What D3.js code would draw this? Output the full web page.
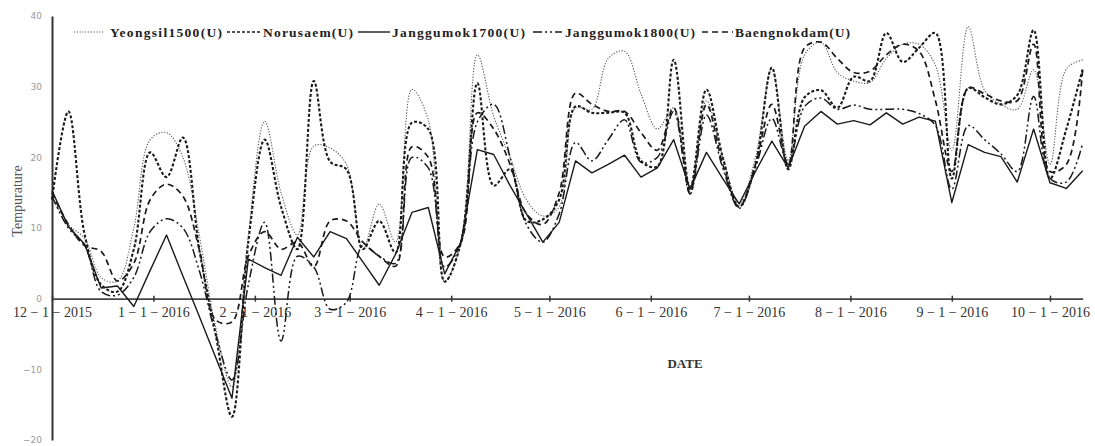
<!DOCTYPE html>
<html>
<head>
<meta charset="utf-8">
<script src="https://cdn.jsdelivr.net/npm/d3@7"></script>
<style>
  body { margin: 0; background: #fff; }
</style>
</head>
<body>
<div id="vis"></div>
<script>
// 5-day observations, Dec 2015 - Oct 2016
const dates = [
  "2015-12-01", "2015-12-06", "2015-12-11", "2015-12-16", "2015-12-21", "2015-12-26", "2015-12-31",
  "2016-01-05", "2016-01-10", "2016-01-15", "2016-01-20", "2016-01-25", "2016-01-30",
  "2016-02-04", "2016-02-09", "2016-02-14", "2016-02-19", "2016-02-24", "2016-02-29",
  "2016-03-05", "2016-03-10", "2016-03-15", "2016-03-20", "2016-03-25", "2016-03-30",
  "2016-04-04", "2016-04-09", "2016-04-14", "2016-04-19", "2016-04-24", "2016-04-29",
  "2016-05-04", "2016-05-09", "2016-05-14", "2016-05-19", "2016-05-24", "2016-05-29",
  "2016-06-03", "2016-06-08", "2016-06-13", "2016-06-18", "2016-06-23", "2016-06-28",
  "2016-07-03", "2016-07-08", "2016-07-13", "2016-07-18", "2016-07-23", "2016-07-28",
  "2016-08-02", "2016-08-07", "2016-08-12", "2016-08-17", "2016-08-22", "2016-08-27",
  "2016-09-01", "2016-09-06", "2016-09-11", "2016-09-16", "2016-09-21", "2016-09-26",
  "2016-10-01", "2016-10-06", "2016-10-11"
];

const yeongsil1500 = [
  14.5, 10.5, 8.5, 3, 2.5, 10, 22.5,
  23.5, 20, 9, -4, -12.5, 9,
  25.1, 15, 9, 21.6, 21.3, 19,
  7, 13.4, 8, 29.6, 25.3, 2.5,
  8, 34.5, 25.8, 20, 14, 11.7,
  13, 27, 26.8, 34, 35, 29,
  24, 27, 16, 28, 20, 13.5,
  20, 32.5, 19.5, 34.5, 36.3, 32,
  30.8, 30.6, 34, 36, 36, 33,
  21, 38.5, 29.5, 27.5, 26.8, 32.4,
  19, 32.5, 33.8
];

const norusaem = [
  14, 26.5, 9, 2, 1, 7, 20.7,
  17.2, 22.8, 7, -5, -16.7, 8,
  22.5, 13, 7, 30.8, 19.4, 18.3,
  7, 11, 6.5, 24.9, 24, 2.4,
  8, 30.5, 16, 18.3, 11, 11.2,
  14, 27.2, 26.3, 26.3, 26.3, 19.5,
  18.7, 33.8, 15.5, 29.6, 20, 13,
  19, 32.7, 18.3, 28.5, 29.5, 27,
  31.4, 30.8, 37.6, 33.5, 35.5, 37.6,
  17, 29.8, 28.5, 27.5, 28.8, 38,
  17, 24, 32.5
];

const janggumok1700 = [
  15.3, 10.2, 7.7, 1.5, 1.8, -1.1, 4,
  9, 3.2, -2.5, -8.3, -14.1, 5.6,
  4.4, 3.3, 8.7, 5.9, 9.5, 8.5,
  5.2, 1.9, 6.3, 12.2, 12.9, 3.5,
  8, 21.1, 20.4, 16, 12, 8,
  10.8, 19.5, 17.8, 19, 20.3, 17.2,
  18.5, 22.5, 15.5, 20.7, 17, 13.4,
  18, 22.3, 18.5, 24.4, 26.5, 24.7,
  25.2, 24.6, 26.3, 24.7, 25.7, 25.1,
  13.6, 21.8, 20.7, 20.1, 16.5, 24,
  16.4, 15.6, 18.1
];

const janggumok1800 = [
  14.5, 10, 7.5, 1, 0.5, 3, 9.5,
  11.3, 10, 4, -5, -11.5, 2,
  10.8, -6, 6, 4.5, -1.5, -0.5,
  7.5, 6, 5, 20, 18.5, 4.5,
  8, 25, 27.5, 20, 10.5, 8,
  12, 22.1, 19.5, 22.5, 25.3, 19.3,
  20, 26.5, 14.8, 26, 18.5, 12.8,
  18.5, 25.5, 19, 27.2, 28.4, 26.8,
  27.4, 26.8, 26.8, 26.8, 26.2, 24.5,
  15.5, 24.5, 22.5, 20.5, 18, 28.6,
  17, 16.5, 22
];

const baengnokdam = [
  15, 10.5, 7.5, 6.7, 2.5, 5, 14,
  16.2, 14.5, 7, -3, -3.3, 6,
  9.5, 7, 8, 4.5, 11, 11,
  8, 6, 4.6, 21.5, 20, 5.9,
  8, 26.3, 24, 19, 12, 10.5,
  15, 29.1, 27.5, 26.5, 26.5, 23.5,
  21, 27, 15, 27.5, 19, 13,
  19, 27.5, 19, 35.5, 36.3, 34,
  32, 32.2, 34.5, 36, 35, 28,
  18, 29.8, 29, 28, 28, 36,
  18, 19, 32.6
];

const seriesNames = ["Yeongsil1500(U)", "Norusaem(U)", "Janggumok1700(U)", "Janggumok1800(U)", "Baengnokdam(U)"];
const yTicks = [-20, -10, 0, 10, 20, 30, 40];
const monthTicks = ["2015-12-01", "2016-01-01", "2016-02-01", "2016-03-01", "2016-04-01", "2016-05-01",
  "2016-06-01", "2016-07-01", "2016-08-01", "2016-09-01", "2016-10-01"];

function createVis() {
  const width = 1095;
  const height = 446;
  const parse = d3.timeParse("%Y-%m-%d");
  const days = dates.map(parse);

  const x = d3.scaleTime()
    .domain([parse("2015-12-01"), parse("2016-10-11")])
    .range([52, 1082.7]);
  const y = d3.scaleLinear()
    .domain([-20, 40])
    .range([440, 16]);

  const svg = d3.select("#vis")
    .append("svg")
    .attr("width", width)
    .attr("height", height)
    .attr("viewBox", [0, 0, width, height]);

  // styles for each series, same order as seriesNames
  const styles = [
    { values: yeongsil1500, dash: "1.2,1.6", w: 1.1, color: "#555", smooth: true },
    { values: norusaem, dash: "3,2", w: 2.1, color: "#1a1a1a", smooth: true },
    { values: janggumok1700, dash: null, w: 1.4, color: "#1a1a1a", smooth: false },
    { values: janggumok1800, dash: "9,3,2,3,2,3", w: 1.5, color: "#1a1a1a", smooth: true },
    { values: baengnokdam, dash: "6,4", w: 1.7, color: "#1a1a1a", smooth: true }
  ];

  // y axis
  const yAxis = svg.append("g")
    .attr("transform", `translate(${x.range()[0]},0)`)
    .call(d3.axisLeft(y).tickValues(yTicks).tickSize(0).tickSizeOuter(0).tickPadding(10));
  yAxis.select(".domain").attr("stroke", "#333").attr("stroke-width", 2);
  yAxis.selectAll("text")
    .attr("font-family", "DejaVu Sans")
    .attr("font-size", 9)
    .attr("fill", "#999");

  // x axis sits on zero
  const xAxis = svg.append("g")
    .attr("transform", `translate(0,${y(0)})`)
    .call(d3.axisBottom(x)
      .tickValues(monthTicks.map(parse))
      .tickFormat(d3.timeFormat("%-m \u2212 %-d \u2212 %Y"))
      .tickSize(3)
      .tickSizeOuter(0));
  xAxis.select(".domain").attr("stroke", "#444").attr("stroke-width", 1.6);
  xAxis.selectAll(".tick line").attr("y1", -3).attr("y2", 3).attr("stroke", "#333").attr("stroke-width", 1.5);
  xAxis.selectAll(".tick text")
    .attr("y", 8)
    .attr("font-family", "Liberation Serif")
    .attr("font-size", 14)
    .attr("fill", "#333");

  svg.append("text")
    .attr("x", 685)
    .attr("y", 368)
    .attr("text-anchor", "middle")
    .attr("font-family", "Liberation Serif")
    .attr("font-weight", "bold")
    .attr("font-size", 13)
    .attr("fill", "#333")
    .text("DATE");

  svg.append("text")
    .attr("transform", "translate(22,201) rotate(-90)")
    .attr("text-anchor", "middle")
    .attr("font-family", "Liberation Serif")
    .attr("font-size", 14)
    .attr("fill", "#555")
    .text("Tempurature");

  // legend: sample start, sample end, text start, text end
  const legendPos = [[74, 104, 110, 222], [227, 260, 263, 353], [358, 390, 392, 525], [533, 562, 565, 695], [702, 733, 735, 850]];
  const legend = svg.append("g");
  seriesNames.forEach((name, i) => {
    const p = legendPos[i];
    const s = styles[i];
    legend.append("line")
      .attr("x1", p[0]).attr("x2", p[1])
      .attr("y1", 32).attr("y2", 32)
      .attr("stroke", s.color)
      .attr("stroke-width", Math.min(s.w, 1.6))
      .attr("stroke-dasharray", s.dash);
    legend.append("text")
      .attr("x", p[2])
      .attr("y", 36.5)
      .attr("font-family", "Liberation Serif")
      .attr("font-weight", "bold")
      .attr("font-size", 13.5)
      .attr("fill", "#222")
      .attr("textLength", p[3] - p[2])
      .attr("lengthAdjust", "spacing")
      .text(name);
  });

  styles.forEach(s => {
    const line = d3.line()
      .x((d, i) => x(days[i]))
      .y(d => y(d))
      .curve(s.smooth ? d3.curveCatmullRom.alpha(0.5) : d3.curveLinear);
    svg.append("path")
      .datum(s.values)
      .attr("fill", "none")
      .attr("stroke", s.color)
      .attr("stroke-width", s.w)
      .attr("stroke-dasharray", s.dash)
      .attr("stroke-linejoin", "round")
      .attr("d", line);
  });
}

window.addEventListener("load", createVis);
</script>
</body>
</html>
